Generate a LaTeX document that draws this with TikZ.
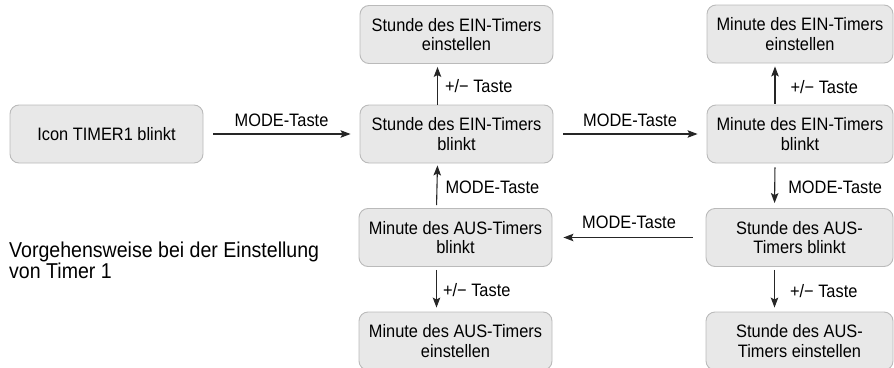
\documentclass[tikz,border=0pt]{standalone}
\usepackage{fontspec}
\setmainfont[FakeStretch=0.91]{Liberation Sans}
\usetikzlibrary{arrows.meta}

\begin{document}
\begin{tikzpicture}[x=1pt, y=-1pt,
    kasten/.style={draw=black!27, fill=black!9, rounded corners=9pt, line width=0.9pt,
      minimum width=193pt, minimum height=58pt, inner sep=0pt, align=center,
      font=\fontsize{18}{19.5}\selectfont},
    pfeil/.style={draw=black!85, line width=1.1pt, -{Stealth[length=10pt,width=7.5pt,inset=2pt]}},
    taste/.style={font=\fontsize{18}{19.5}\selectfont, inner sep=0pt}]
    % Definir desplazamientos de las flechas verticales
    \def\dl{-19pt} % columna izquierda
    \def\dr{-25pt} % columna derecha

    \useasboundingbox (0,0) rectangle (894,367);

    % Cajas
    \node[kasten] (icon) at (106.5,134) {Icon TIMER1 blinkt};
    \node[kasten] (seinb) at (456.5,134) {Stunde des EIN-Timers\\blinkt};
    \node[kasten] (seine) at (456.5,34.5) {Stunde des EIN-Timers\\einstellen};
    \node[kasten, minimum width=186pt] (meinb) at (800,134) {Minute des EIN-Timers\\blinkt};
    \node[kasten, minimum width=186pt] (meine) at (800,34) {Minute des EIN-Timers\\einstellen};
    \node[kasten, minimum width=187pt] (sausb) at (799.5,237.5) {Stunde des AUS-\\Timers blinkt};
    \node[kasten, minimum width=187pt] (sause) at (799.5,341) {Stunde des AUS-\\Timers einstellen};
    \node[kasten] (mausb) at (455.5,237.5) {Minute des AUS-Timers\\blinkt};
    \node[kasten] (mause) at (455.5,341) {Minute des AUS-Timers\\einstellen};

    % Texto a la izquierda
    \node[anchor=west, align=left, inner sep=0pt, font=\fontsize{21.5}{21}\selectfont] (titel) at (9,260)
      {Vorgehensweise bei der Einstellung\\von Timer 1};

    % Flechas horizontales
    \draw[pfeil, shorten <=10pt, shorten >=9pt] (icon.east) -- node[taste, above=7pt] {MODE-Taste} (seinb.west);
    \draw[pfeil, shorten <=10pt, shorten >=9pt] (seinb.east) -- node[taste, above=7pt] {MODE-Taste} (meinb.west);
    \draw[pfeil, shorten <=13pt, shorten >=11pt] (sausb.west) -- node[taste, above=8pt] {MODE-Taste} (mausb.east);

    % Flechas verticales
    \draw[pfeil, shorten >=3pt] ([xshift=\dl]seinb.north) -- node[taste, right=7pt, yshift=-2pt] {+/− Taste} ([xshift=\dl]seine.south);
    \draw[pfeil, shorten <=3pt, shorten >=2pt] ([xshift=\dl]mausb.north) -- node[taste, right=8pt, yshift=-2pt] {MODE-Taste} ([xshift=\dl]seinb.south);
    \draw[pfeil, shorten <=3pt, shorten >=4pt] ([xshift=\dl]mausb.south) -- node[taste, right=6pt, yshift=-1pt] {+/− Taste} ([xshift=\dl]mause.north);
    \draw[pfeil, shorten <=1pt, shorten >=3pt] ([xshift=\dr]meinb.north) -- node[taste, right=15pt, yshift=-3pt] {+/− Taste} ([xshift=\dr]meine.south);
    \draw[pfeil, shorten <=4pt, shorten >=5pt] ([xshift=\dr]meinb.south) -- node[taste, right=13pt, yshift=-2pt] {MODE-Taste} ([xshift=\dr]sausb.north);
    \draw[pfeil, shorten <=3pt, shorten >=4pt] ([xshift=\dr]sausb.south) -- node[taste, right=15pt, yshift=-2pt] {+/− Taste} ([xshift=\dr]sause.north);
\end{tikzpicture}
\end{document}
